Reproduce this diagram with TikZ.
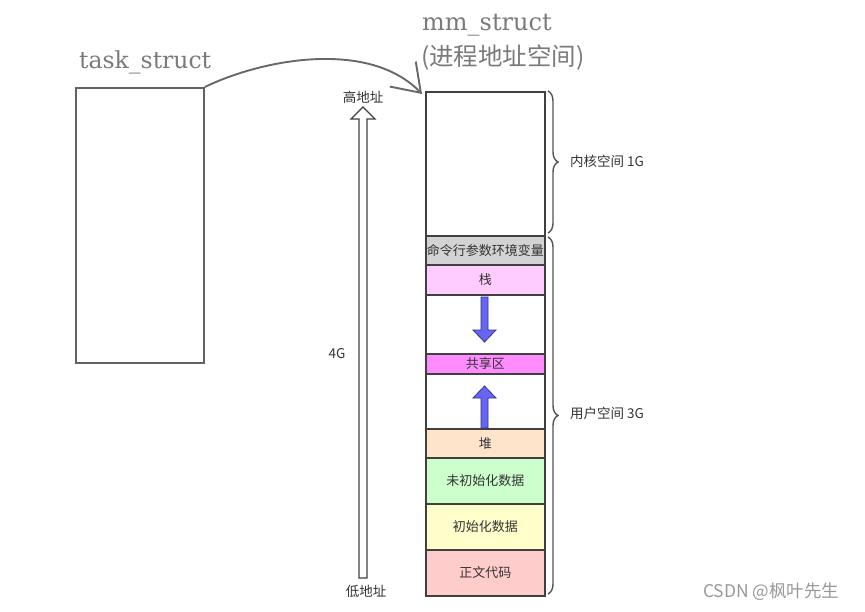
\documentclass[tikz,border=0pt]{standalone}
\usepackage{fontspec}
\setmainfont{Noto Sans CJK SC}
\newfontfamily\ttlfont{DejaVu Serif}
\usetikzlibrary{arrows.meta,decorations.pathreplacing}
\definecolor{bord}{HTML}{404040}
\definecolor{ttl}{HTML}{7A7A7A}
\definecolor{lbl}{HTML}{333333}
\definecolor{cmdc}{HTML}{D3D3D3}
\definecolor{stackc}{HTML}{FFCCFF}
\definecolor{sharec}{HTML}{FF8CFF}
\definecolor{heapc}{HTML}{FFE4CC}
\definecolor{uninitc}{HTML}{CCFFCC}
\definecolor{initc}{HTML}{FFFFCC}
\definecolor{textc}{HTML}{FFCCCC}
\definecolor{bluef}{HTML}{6666F2}
\definecolor{blued}{HTML}{333388}
\tikzset{
  region/.style={draw=bord, line width=1.6pt, minimum width=119pt, inner sep=0pt,
    anchor=north west, text=lbl, font=\fontsize{13}{15}\selectfont},
  brc/.style={draw=bord!90, line width=1.4pt, decorate,
    decoration={brace, amplitude=10pt}},
  small/.style={text=lbl, font=\fontsize{13.5}{15}\selectfont, inner sep=0pt},
  bluearrow/.style={fill=bluef, draw=blued, line width=0.8pt},
}
\begin{document}
\begin{tikzpicture}[x=1pt,y=-1pt]
\useasboundingbox (0,0) rectangle (865,611);
% task_struct
\node[draw=ttl!80!black, line width=1.8pt, minimum width=128pt, minimum height=275pt, anchor=north west, inner sep=0pt] (task) at (75,87) {};
\node[anchor=base west, text=ttl, font=\ttlfont\fontsize{23.5}{26}\selectfont, inner sep=0pt] (tasklbl) at (79,68) {task\_struct};
% mm_struct labels
\node[anchor=base west, text=ttl, font=\ttlfont\fontsize{24}{26}\selectfont, inner sep=0pt] (mmlbl) at (422,30) {mm\_struct};
\node[anchor=west, text=ttl, font=\fontsize{24.5}{27}\selectfont, inner sep=0pt] (mmlbl2) at (421,58) {(进程地址空间)};
% memory regions
\node[region, minimum height=144pt] (kernel) at (425,91) {};
\node[region, minimum height=29pt, fill=cmdc] (cmd) at (425,235) {命令行参数环境变量};
\node[region, minimum height=30pt, fill=stackc] (stack) at (425,264) {栈};
\node[region, minimum height=59pt] (gap1) at (425,294) {};
\node[region, minimum height=20pt, fill=sharec] (shared) at (425,353) {共享区};
\node[region, minimum height=55pt] (gap2) at (425,373) {};
\node[region, minimum height=29pt, fill=heapc] (heap) at (425,428) {堆};
\node[region, minimum height=46pt, fill=uninitc] (uninit) at (425,457) {未初始化数据};
\node[region, minimum height=46pt, fill=initc] (init) at (425,503) {初始化数据};
\node[region, minimum height=46pt, fill=textc] (code) at (425,549) {正文代码};
% blue arrows
\draw[bluearrow] (481,297) -- (488,297) -- (488,330) -- (496,330) -- (484.5,342) -- (473,330) -- (481,330) -- cycle;
\draw[bluearrow] (481,428) -- (481,398) -- (473,398) -- (484.5,386) -- (496,398) -- (488,398) -- (488,428) -- cycle;
% curved arrow
\coordinate (tip) at (422,94);
\draw[ttl!85!black, line width=1.9pt, -{Straight Barb[length=26pt,width=36pt,line width=1.9pt]}]
  (task.north east) .. controls (265,58) and (370,40) .. (tip);
% hollow address arrow
\draw[fill=white, draw=bord, line width=1.2pt] (359,578) -- (359,119) -- (351,119) -- (363,107) -- (375,119) -- (367,119) -- (367,578) -- cycle;
\node[small] (hi) at (363,97) {高地址};
\node[small] (lo) at (366,591) {低地址};
\node[small] (fourg) at (337,354) {4G};
% braces
\draw[brc] (548,91) -- (548,233);
\draw[brc] (548,237) -- (548,594);
\node[small, anchor=west] (klbl) at (570,161) {内核空间 1G};
\node[small, anchor=west] (ulbl) at (570,413) {用户空间 3G};
% watermark
\node[anchor=west, text=black!40, font=\fontsize{17.5}{19}\selectfont, inner sep=0pt] (wm) at (703,592) {CSDN @枫叶先生};
\end{tikzpicture}
\end{document}
